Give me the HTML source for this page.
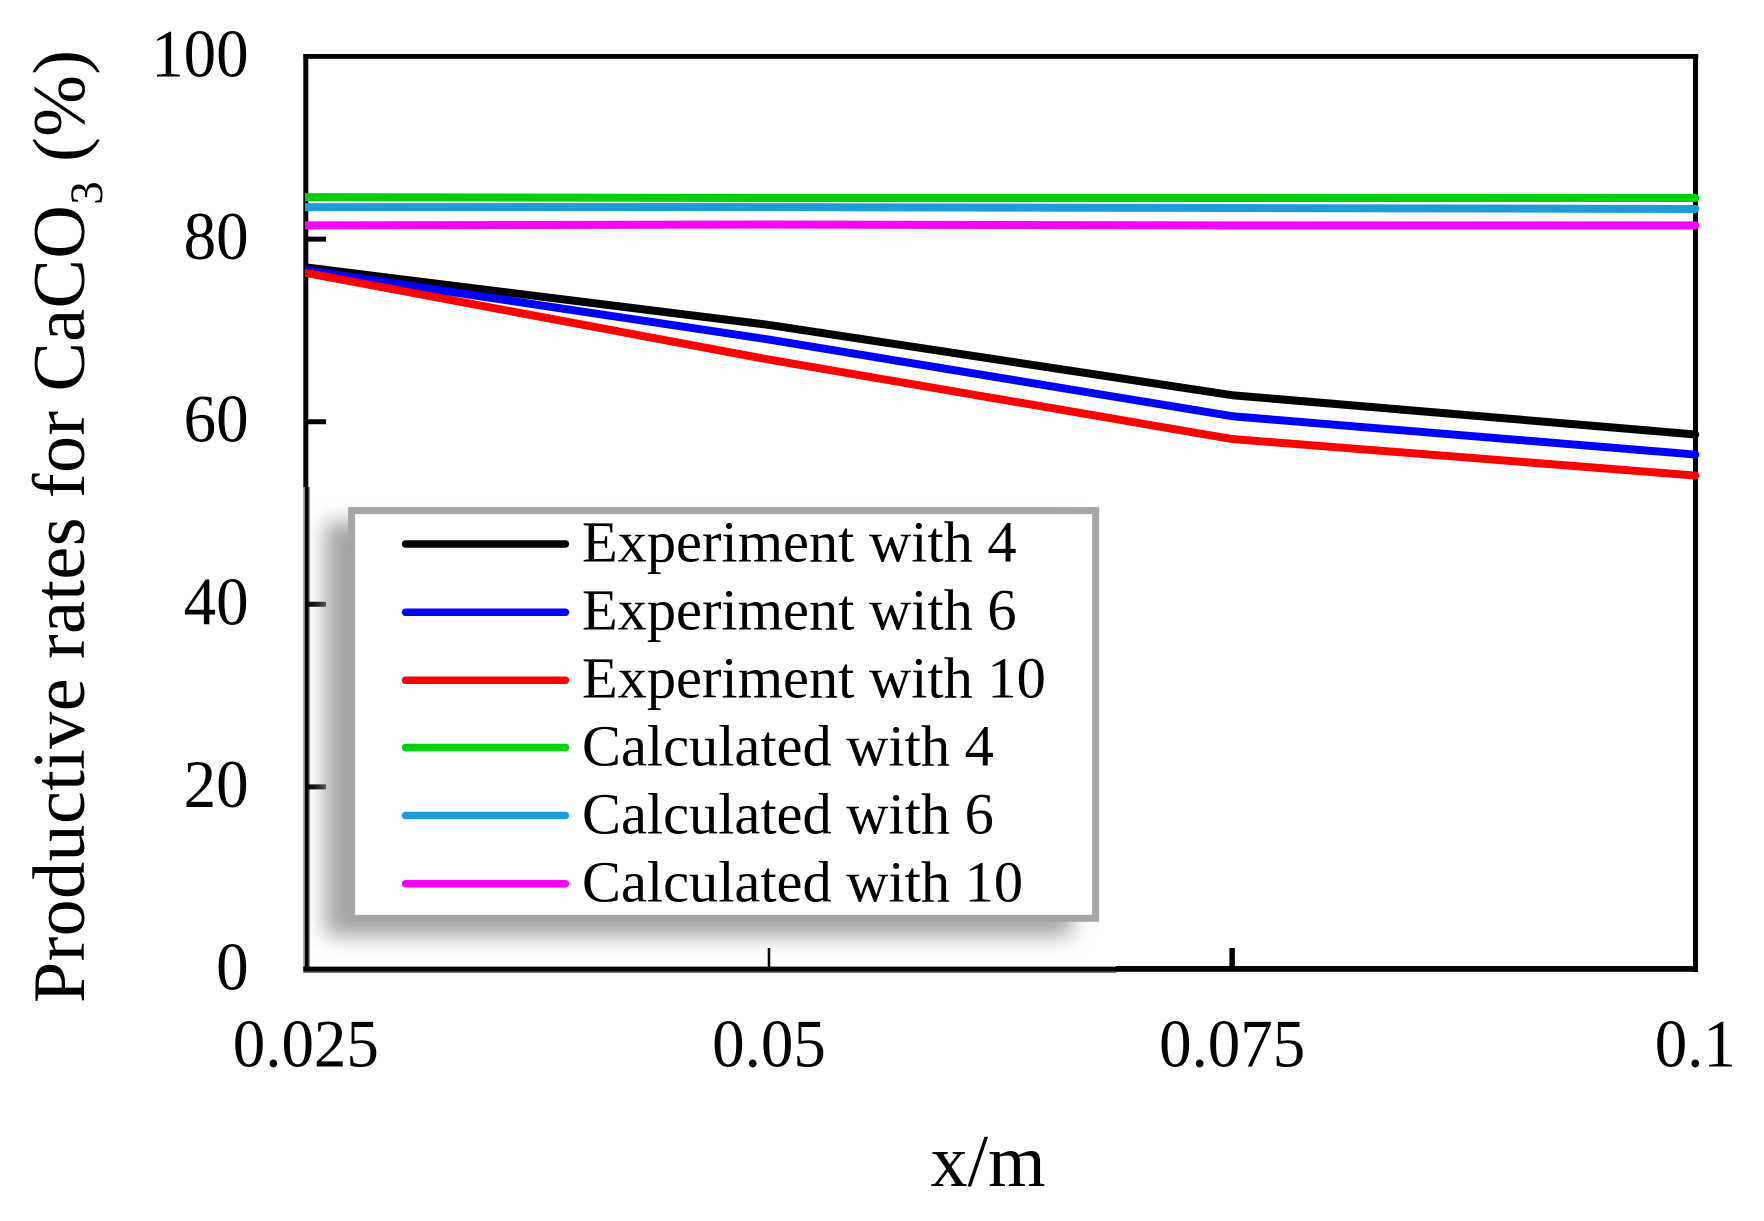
<!DOCTYPE html>
<html lang="en">
<head>
<meta charset="utf-8">
<title>Productive rates for CaCO3</title>
<style>
  html, body { margin: 0; padding: 0; background: #ffffff; }
  body { width: 1764px; height: 1221px; overflow: hidden; }
  svg { display: block; font-family: "Liberation Serif", serif; fill: #000; }
</style>
</head>
<body>
<svg id="chart" xmlns="http://www.w3.org/2000/svg" width="1764" height="1221" viewBox="0 0 1764 1221">
  <defs>
    <filter id="legend-blur" x="-10%" y="-15%" width="120%" height="130%"><feGaussianBlur stdDeviation="10"/></filter>
    <clipPath id="plot-clip"><rect x="305" y="40" width="1395" height="940"/></clipPath>
  </defs>
  <rect x="0" y="0" width="1764" height="1221" fill="#ffffff"/>

  <g id="axes">
    <rect x="303.3" y="54" width="1395" height="4.8" fill="#000"/>
    <rect x="1693" y="54" width="5" height="918" fill="#000"/>
    <rect x="303.3" y="54" width="5" height="434" fill="#000"/>
    <rect x="303.3" y="487" width="6.7" height="485" fill="#8c8c8c"/>
    <rect x="305" y="487" width="3.6" height="485" fill="#000"/>
    <rect x="303.3" y="966.7" width="813" height="6" fill="#404040"/>
    <rect x="303.3" y="966.7" width="813" height="4.3" fill="#000"/>
    <rect x="1116" y="966" width="582" height="5.8" fill="#000"/>
  </g>
  <g id="y-ticks"></g>
  <g id="x-ticks"></g>
  <g id="series" clip-path="url(#plot-clip)"></g>

  <text transform="translate(84,1003) rotate(-90)" font-size="74" textLength="953">Productive rates for CaCO<tspan font-size="47" dy="18">3</tspan><tspan dy="-18"> (%)</tspan></text>
  <text x="988" y="1186" font-size="74" text-anchor="middle">x/m</text>

  <g>
    <rect x="325" y="522" width="747" height="414" fill="#a6a6a6" filter="url(#legend-blur)"/>
    <rect x="351.6" y="510.6" width="744" height="407.7" fill="#ffffff" stroke="#a6a6a6" stroke-width="7"/>
    <g>
      <line x1="405.5" x2="565.5" y1="544" y2="544" stroke="#000000" stroke-width="7.5" stroke-linecap="round"/>
      <text x="582" y="561.5" font-size="58.4">Experiment with 4</text>
    </g>
    <g>
      <line x1="405.5" x2="565.5" y1="612.3" y2="612.3" stroke="#0000ff" stroke-width="7.5" stroke-linecap="round"/>
      <text x="582" y="629.5" font-size="58.4">Experiment with 6</text>
    </g>
    <g>
      <line x1="405.5" x2="565.5" y1="680.3" y2="680.3" stroke="#ff0000" stroke-width="7.5" stroke-linecap="round"/>
      <text x="582" y="697.5" font-size="58.4">Experiment with 10</text>
    </g>
    <g>
      <line x1="405.5" x2="565.5" y1="747.5" y2="747.5" stroke="#00d00e" stroke-width="7.5" stroke-linecap="round"/>
      <text x="582" y="765.5" font-size="58.4">Calculated with 4</text>
    </g>
    <g>
      <line x1="405.5" x2="565.5" y1="815.5" y2="815.5" stroke="#1e9cd8" stroke-width="7.5" stroke-linecap="round"/>
      <text x="582" y="833.5" font-size="58.4">Calculated with 6</text>
    </g>
    <g>
      <line x1="405.5" x2="565.5" y1="883.7" y2="883.7" stroke="#ff00ff" stroke-width="7.5" stroke-linecap="round"/>
      <text x="582" y="901.5" font-size="58.4">Calculated with 10</text>
    </g>
  </g>
</svg>
<script>
const xValues = [0.025, 0.05, 0.075, 0.1];
const xTickLabels = ["0.025", "0.05", "0.075", "0.1"];
const yTickValues = [0, 20, 40, 60, 80, 100];
const yTickLabels = ["0", "20", "40", "60", "80", "100"];

const experiment4 = [76.9, 70.6, 62.9, 58.6];
const experiment6 = [76.6, 69.0, 60.6, 56.4];
const experiment10 = [76.3, 66.8, 58.1, 54.1];
const calculated4 = [84.6, 84.5, 84.5, 84.5];
const calculated6 = [83.5, 83.5, 83.4, 83.3];
const calculated10 = [81.5, 81.6, 81.5, 81.5];

const NS = "http://www.w3.org/2000/svg";
function xScale(v) { return 305.8 + (v - 0.025) / 0.075 * 1389.5; }
function yScale(v) { return 969.5 - v * 9.13; }
function make(tag, parent, attrs) {
  const el = document.createElementNS(NS, tag);
  for (const k in attrs) el.setAttribute(k, attrs[k]);
  parent.appendChild(el);
  return el;
}
function narrow(label) {
  label.setAttribute("textLength", label.getComputedTextLength() * 0.955);
  label.setAttribute("lengthAdjust", "spacingAndGlyphs");
}

const yTicksGroup = document.getElementById("y-ticks");
yTickValues.forEach(function (v, i) {
  if (v !== 0 && v !== 100) {
    const tick = make("line", yTicksGroup, { x1: 306, x2: 326, y1: yScale(v), y2: yScale(v), stroke: "#000", "stroke-width": 5 });
    
    
  }
  const label = make("text", yTicksGroup, { x: 248.6, y: yScale(v) + 20, "font-size": 68, "text-anchor": "end" });
  
  
  label.textContent = yTickLabels[i];
  narrow(label);
});

const xTicksGroup = document.getElementById("x-ticks");
xValues.forEach(function (v, i) {
  if (i === 1 || i === 2) {
    const tick = make("line", xTicksGroup, { x1: xScale(v), x2: xScale(v), y1: 948, y2: 968, stroke: "#000", "stroke-width": i === 1 ? 2.5 : 5.5 });
    
    
  }
  const label = make("text", xTicksGroup, { x: xScale(v), y: 1066.5, "font-size": 68, "text-anchor": "middle" });
  
  
  label.textContent = xTickLabels[i];
  narrow(label);
});

const seriesGroup = document.getElementById("series");
function drawSeries(values, color) {
  const points = values.map(function (v, i) { return xScale(xValues[i]) + "," + yScale(v); }).join(" ");
  return make("polyline", seriesGroup, { points: points, fill: "none", stroke: color, "stroke-width": 8, "stroke-linecap": "round", "stroke-linejoin": "round" });
}
const lineE4 = drawSeries(experiment4, "#000000");


const lineE6 = drawSeries(experiment6, "#0000ff");


const lineE10 = drawSeries(experiment10, "#ff0000");


const lineC4 = drawSeries(calculated4, "#00d00e");


const lineC6 = drawSeries(calculated6, "#1e9cd8");


const lineC10 = drawSeries(calculated10, "#ff00ff");


</script>
</body>
</html>
